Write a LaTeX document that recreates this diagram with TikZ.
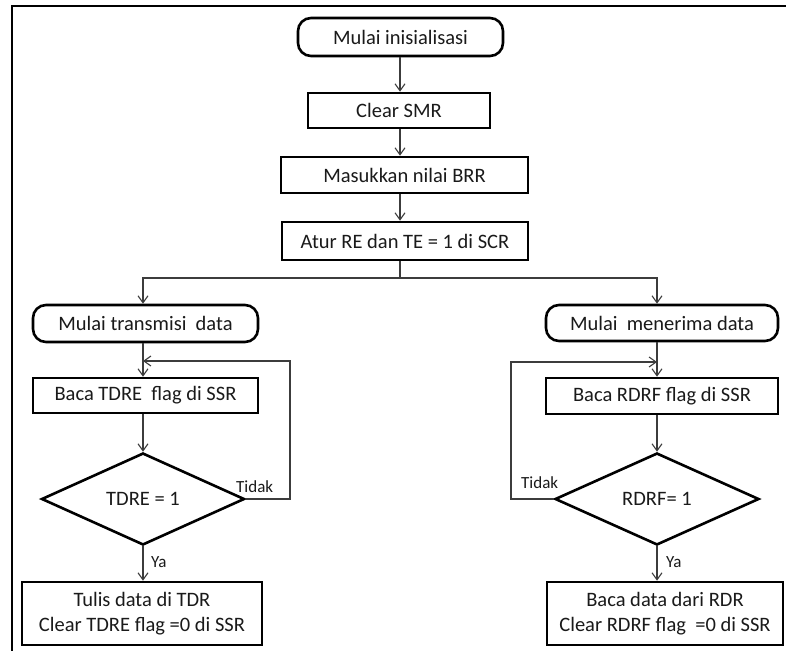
\documentclass[tikz,border=0pt]{standalone}
\usepackage{fontspec}
\setmainfont{Carlito}
\usetikzlibrary{shapes.geometric,arrows.meta}

\definecolor{ink}{HTML}{1A1A1A}
\definecolor{wire}{HTML}{3C3C3C}

\tikzset{
  base/.style={draw=black, line width=2.6pt, inner sep=0pt, text=ink,
               font=\fontsize{20.5}{25}\selectfont, align=center},
  procbox/.style={base, rectangle},
  termbox/.style={base, rectangle, rounded corners=13pt},
  decbox/.style={base, diamond},
  conn/.style={draw=wire, line width=1.1pt},
  arr/.style={conn, -{Straight Barb[length=7pt,width=10pt]}},
  lbl/.style={text=ink, font=\fontsize{17}{20}\selectfont, inner sep=0pt}
}

\begin{document}
\begin{tikzpicture}[x=1pt, y=-1pt]
  \useasboundingbox (0,0) rectangle (786,651);
  \fill[white] (0,0) rectangle (786,651);

  % outer frame (top and left edges)
  \draw[line width=2pt] (786,6) -- (12,6) -- (12,651);

  % main initialisation column
  \node[termbox, minimum width=205pt, minimum height=38pt] (start) at (400.5,37) {Mulai inisialisasi};
  \node[procbox, minimum width=182pt, minimum height=35pt] (smr) at (399,110.5) {Clear SMR};
  \node[procbox, minimum width=247pt, minimum height=36pt] (brr) at (404.5,175) {Masukkan nilai BRR};
  \node[procbox, minimum width=246pt, minimum height=38pt] (scr) at (405,241) {Atur RE dan TE = 1 di SCR};

  % transmit branch
  \node[termbox, minimum width=225pt, minimum height=37pt] (tx) at (145.5,323.5) {Mulai transmisi\hspace{0.45em}data};
  \node[procbox, minimum width=225pt, minimum height=35pt] (tdre) at (145.5,395.5) {Baca TDRE\hspace{0.45em}flag di SSR};
  \node[decbox, minimum width=203pt, minimum height=92pt] (qt) at (143,499) {TDRE = 1};
  \node[procbox, minimum width=240pt, minimum height=63pt] (wr) at (142,613.5) {Tulis data di TDR\\Clear TDRE flag =0 di SSR};

  % receive branch
  \node[termbox, minimum width=232pt, minimum height=36pt] (rx) at (662,323) {Mulai\hspace{0.45em}menerima data};
  \node[procbox, minimum width=232pt, minimum height=36pt] (rdrf) at (662,396) {Baca RDRF flag di SSR};
  \node[decbox, minimum width=204pt, minimum height=92pt] (qr) at (657,499) {RDRF= 1};
  \node[procbox, minimum width=236pt, minimum height=63pt] (rd) at (665,613.5) {Baca data dari RDR\\Clear RDRF flag\hspace{0.45em}=0 di SSR};

  % column guides
  \coordinate (cl) at (143,0);
  \coordinate (cm) at (400,0);
  \coordinate (cr) at (657,0);
  \coordinate (split) at (400,278);
  \coordinate (tloopR) at (290,361);
  \coordinate (rloopL) at (511,362);

  % main column arrows
  \draw[arr] (start.south -| cm) -- (smr.north -| cm);
  \draw[arr] (smr.south -| cm) -- (brr.north -| cm);
  \draw[arr] (brr.south -| cm) -- (scr.north -| cm);

  % fork to both branches
  \draw[conn] (scr.south -| cm) -- (split);
  \draw[arr] (split) -- (split -| cl) -- (tx.north -| cl);
  \draw[arr] (split) -- (split -| cr) -- (rx.north -| cr);

  % transmit flow
  \draw[arr] (tx.south -| cl) -- (tdre.north -| cl);
  \draw[arr] (tdre.south -| cl) -- (qt.north);
  \draw[arr] (qt.south) -- (wr.north -| qt.south);
  \draw[arr] (qt.east) -- (qt.east -| tloopR) -- (tloopR) -- (tloopR -| cl);

  % receive flow
  \draw[arr] (rx.south -| cr) -- (rdrf.north -| cr);
  \draw[arr] (rdrf.south -| cr) -- (qr.north);
  \draw[arr] (qr.south) -- (rd.north -| qr.south);
  \draw[arr] (qr.west) -- (qr.west -| rloopL) -- (rloopL) -- (rloopL -| cr);

  % branch labels
  \node[lbl, anchor=west] (tno) at (236,487) {Tidak};
  \node[lbl, anchor=west] (tyes) at (151,562) {Ya};
  \node[lbl, anchor=west] (rno) at (521,483) {Tidak};
  \node[lbl, anchor=west] (ryes) at (666,562) {Ya};
\end{tikzpicture}
\end{document}
